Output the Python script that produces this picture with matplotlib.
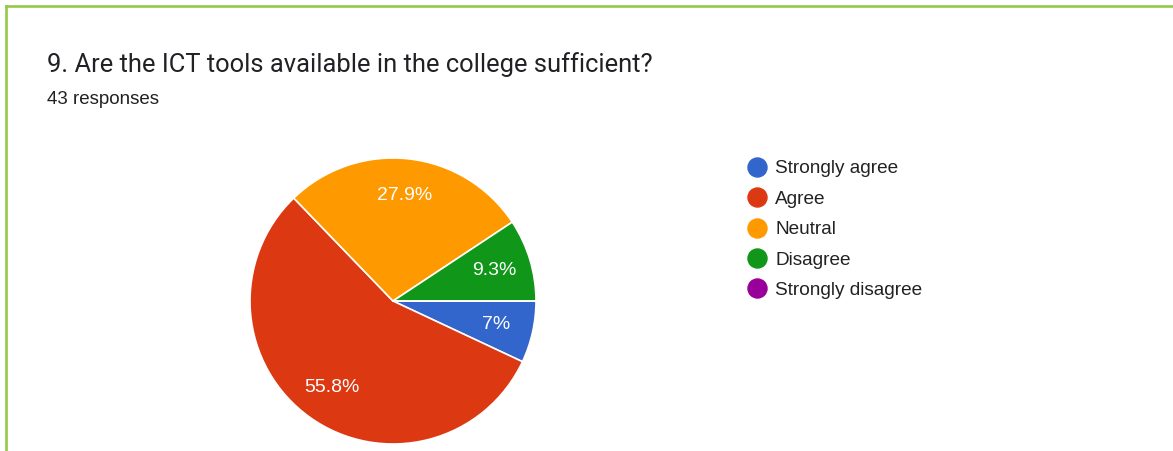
import matplotlib.pyplot as plt
from matplotlib.lines import Line2D

W, H = 1173, 451

title = "9. Are the ICT tools available in the college sufficient?"
subtitle = "43 responses"
labels = ["Strongly agree", "Agree", "Neutral", "Disagree", "Strongly disagree"]
counts = [3, 24, 12, 4, 0]
colors = ["#3366CC", "#DC3912", "#FF9900", "#109618", "#990099"]

plt.rcParams['font.family'] = ['Liberation Sans', 'DejaVu Sans']

fig = plt.figure(figsize=(W / 100, H / 100), dpi=100)

# green frame (top and left only visible)
fig.add_artist(Line2D([6 / W, 1], [1 - 6.3 / H, 1 - 6.3 / H], color="#93C947", lw=1.9))
fig.add_artist(Line2D([6.3 / W, 6.3 / W], [0, 1 - 6.3 / H], color="#93C947", lw=1.9))

fig.text(47 / W, 1 - 72 / H, title, fontsize=18.4, color="#202124",
         family=['Roboto', 'DejaVu Sans'])
fig.text(47 / W, 1 - 104 / H, subtitle, fontsize=13.5, color="#202124")

# pie centred at (393, 301) px, radius 143 px
cx, cy, r = 393, 301, 143
ax = fig.add_axes([(cx - r) / W, (H - cy - r) / H, 2 * r / W, 2 * r / H])


def fmt(p):
    if p < 0.05:
        return ""
    s = f"{p:.1f}"
    if s.endswith(".0"):
        s = s[:-2]
    return s + "%"


wedges, texts, autotexts = ax.pie(
    counts, colors=colors, startangle=0, counterclock=False,
    autopct=fmt, pctdistance=0.74,
    wedgeprops=dict(edgecolor="white", linewidth=1.2),
    textprops=dict(color="white", fontsize=14))
ax.set_xlim(-1, 1)
ax.set_ylim(-1, 1)
ax.set_aspect("equal")

handles = [Line2D([], [], marker="o", ls="", markersize=13.7,
                  markerfacecolor=c, markeredgecolor=c) for c in colors]
fig.legend(handles, labels, loc="upper left",
           bbox_to_anchor=(747.5 / W, 1 - 160 / H), frameon=False,
           fontsize=13.7, labelcolor="#222222", handletextpad=0.45,
           handlelength=1.0, labelspacing=0.69, borderaxespad=0, borderpad=0)

fig.savefig("out.png", dpi=100)
